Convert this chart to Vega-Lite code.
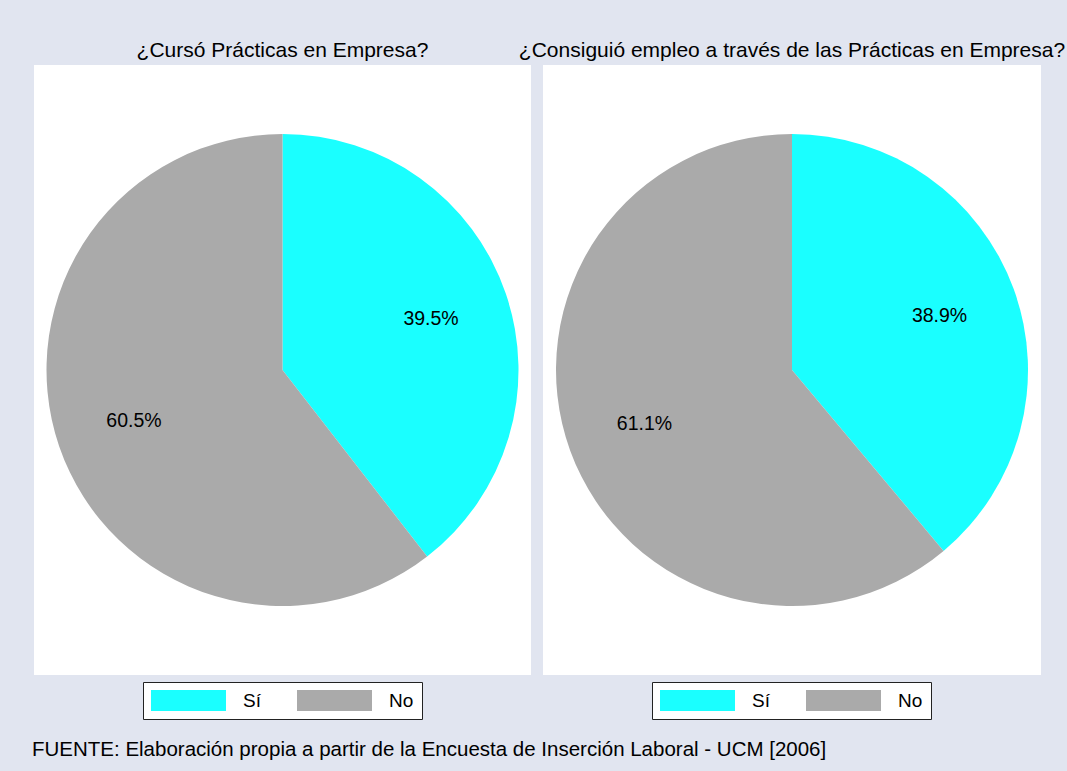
{
  "$schema": "https://vega.github.io/schema/vega-lite/v6.json",
  "background": "#e1e5f0",
  "padding": {"left": 32, "top": 40, "right": 2, "bottom": 12},
  "bounds": "flush",
  "title": {
    "text": "FUENTE: Elaboración propia a partir de la Encuesta de Inserción Laboral - UCM [2006]",
    "orient": "bottom",
    "anchor": "start",
    "frame": "group",
    "fontSize": 20.5,
    "font": "Liberation Sans",
    "fontWeight": "normal",
    "color": "black",
    "baseline": "top",
    "offset": 20,
    "dx": -2
  },
  "datasets": {
    "encuesta": [
      {"pregunta": "curso", "respuesta": "Sí", "orden": 1, "proporcion": 0.395},
      {"pregunta": "curso", "respuesta": "No", "orden": 2, "proporcion": 0.605},
      {"pregunta": "empleo", "respuesta": "Sí", "orden": 1, "proporcion": 0.389},
      {"pregunta": "empleo", "respuesta": "No", "orden": 2, "proporcion": 0.611}
    ]
  },
  "spacing": 12,
  "hconcat": [
    {
      "width": 497,
      "height": 610,
      "view": {"fill": "white", "stroke": "white", "strokeWidth": 0},
      "title": {"text": "¿Cursó Prácticas en Empresa?", "anchor": "middle", "frame": "group", "fontSize": 21, "font": "Liberation Sans", "fontWeight": "normal", "baseline": "bottom", "offset": -17, "color": "black"},
      "data": {"name": "encuesta"},
      "transform": [{"filter": "datum.pregunta === 'curso'"}],
      "encoding": {
        "theta": {"field": "proporcion", "type": "quantitative", "stack": true},
        "order": {"field": "orden", "type": "quantitative"}
      },
      "layer": [
        {
          "mark": {"type": "arc", "outerRadius": 236, "strokeWidth": 0},
          "encoding": {
            "color": {
              "field": "respuesta", "type": "nominal",
              "scale": {"domain": ["Sí", "No"], "range": ["#1affff", "#aaaaaa"]},
              "legend": {"title": null, "orient": "none", "legendX": 109, "legendY": 617, "direction": "horizontal",
                "symbolType": "M-3.571,-1H3.571V1H-3.571Z", "symbolSize": 441, "symbolStrokeWidth": 0,
                "symbolOffset": 27, "labelOffset": 44, "labelFontSize": 19, "labelColor": "black", "labelFont": "Liberation Sans",
                "columnPadding": 36, "padding": 8, "fillColor": "white", "strokeColor": "#222222", "symbolOpacity": 1}
            }
          }
        },
        {
          "mark": {"type": "text", "radius": 157, "fontSize": 19.5, "font": "Liberation Sans", "color": "black"},
          "encoding": {
            "detail": {"field": "respuesta", "type": "nominal"},
            "text": {"field": "proporcion", "type": "quantitative", "format": ".1%"}
          }
        }
      ]
    },
    {
      "width": 498,
      "height": 610,
      "view": {"fill": "white", "stroke": "white", "strokeWidth": 0},
      "title": {"text": "¿Consiguió empleo a través de las Prácticas en Empresa?", "anchor": "middle", "frame": "group", "fontSize": 21, "font": "Liberation Sans", "fontWeight": "normal", "baseline": "bottom", "offset": -17, "color": "black"},
      "data": {"name": "encuesta"},
      "transform": [{"filter": "datum.pregunta === 'empleo'"}],
      "encoding": {
        "theta": {"field": "proporcion", "type": "quantitative", "stack": true},
        "order": {"field": "orden", "type": "quantitative"}
      },
      "layer": [
        {
          "mark": {"type": "arc", "outerRadius": 236, "strokeWidth": 0},
          "encoding": {
            "color": {
              "field": "respuesta", "type": "nominal",
              "scale": {"domain": ["Sí", "No"], "range": ["#1affff", "#aaaaaa"]},
              "legend": {"title": null, "orient": "none", "legendX": 109, "legendY": 617, "direction": "horizontal",
                "symbolType": "M-3.571,-1H3.571V1H-3.571Z", "symbolSize": 441, "symbolStrokeWidth": 0,
                "symbolOffset": 27, "labelOffset": 44, "labelFontSize": 19, "labelColor": "black", "labelFont": "Liberation Sans",
                "columnPadding": 36, "padding": 8, "fillColor": "white", "strokeColor": "#222222", "symbolOpacity": 1}
            }
          }
        },
        {
          "mark": {"type": "text", "radius": 157, "fontSize": 19.5, "font": "Liberation Sans", "color": "black"},
          "encoding": {
            "detail": {"field": "respuesta", "type": "nominal"},
            "text": {"field": "proporcion", "type": "quantitative", "format": ".1%"}
          }
        }
      ]
    }
  ],
  "resolve": {"scale": {"color": "independent"}, "legend": {"color": "independent"}},
  "config": {
    "view": {"fill": "white", "stroke": null},
    "font": "Liberation Sans"
  }
}
